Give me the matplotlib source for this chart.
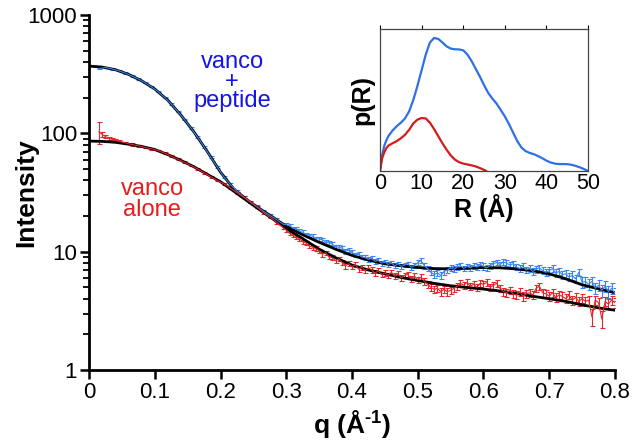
import numpy as np
import matplotlib
matplotlib.use("Agg")
import matplotlib.pyplot as plt
from matplotlib.ticker import FixedLocator, NullFormatter

plt.rcParams['font.family'] = ['Liberation Sans', 'DejaVu Sans']
plt.rcParams['mathtext.fontset'] = 'custom'
plt.rcParams['mathtext.rm'] = 'Liberation Sans'
plt.rcParams['mathtext.bf'] = 'Liberation Sans:bold'

# ---- scattering data ----
# q grid: 0.01 steps below 0.3, 0.005 steps from 0.3 to 0.8
q_blue = np.concatenate([np.linspace(0.015, 0.295, 29), np.linspace(0.30, 0.80, 101)])
I_blue = [352, 360, 350, 338, 323, 305, 288, 268, 247, 225, 201, 177, 153, 131, 111,
          93, 77, 63, 52, 43, 37, 32.5, 29, 26.3, 24.1, 22, 20.3, 18.7, 17.1,
          16.9, 16.6, 15.8, 15.6, 14.9, 14.6, 14.0, 13.7, 13.5, 12.9,
          12.8, 12.6, 12.0, 11.9, 11.6, 11.0, 10.9, 10.7, 10.1, 10.3,
          9.9, 9.4, 9.5, 9.0, 8.9, 8.6, 8.8, 8.3, 8.4, 8.0,
          8.2, 7.8, 8.0, 7.6, 7.9, 7.5, 7.7, 7.9, 7.4, 7.6,
          8.1, 8.4, 7.6, 7.2, 6.7, 6.4, 6.6, 6.3, 6.8, 7.0,
          7.3, 7.1, 7.4, 7.6, 7.2, 7.5, 7.3, 7.6, 7.4, 7.8,
          7.5, 7.3, 7.6, 7.9, 8.1, 7.8, 8.2, 8.0, 7.7, 7.9,
          7.4, 7.2, 7.5, 7.0, 7.2, 6.8, 7.1, 7.3, 6.9, 6.7,
          6.9, 7.2, 6.6, 6.8, 6.4, 6.5, 6.1, 6.3, 5.9, 6.7,
          5.5, 5.6, 5.3, 5.6, 4.9, 5.2, 4.7, 5.1, 4.6, 4.9, 4.4]
err_blue = ([5, 4, 4, 4, 4, 4, 3, 3, 3, 3, 3, 2.5, 2.5, 2, 2, 1.8, 1.5, 1.3, 1.1,
             0.9, 0.8, 0.7, 0.6, 0.6, 0.5, 0.5, 0.5, 0.5, 0.5]
            + [0.5] * 10 + [0.45] * 10 + [0.4] * 10 + [0.35] * 10 + [0.4] * 10
            + [0.4] * 10 + [0.45] * 10 + [0.45] * 10 + [0.5] * 10 + [0.55] * 11)

q_red = np.concatenate([[0.015, 0.02, 0.025, 0.03, 0.035, 0.04, 0.045],
                        np.linspace(0.055, 0.295, 25), np.linspace(0.30, 0.80, 101)])
I_red = [103, 98, 94, 91, 89, 87.5, 86, 83, 80.5, 78.5, 76, 74, 71.5, 68, 64, 60.5,
         57, 53.5, 50, 46.5, 43, 40, 37.5, 34.5, 31.5, 29, 26.5, 24, 21.5, 19.6, 17.8, 16.0,
         15.2, 14.3, 13.9, 13.2, 12.9, 12.1, 11.9, 11.2, 10.9, 10.6,
         10.2, 9.5, 9.8, 9.0, 8.9, 8.4, 8.7, 8.1, 7.6, 7.9,
         7.5, 7.8, 7.1, 7.4, 6.9, 7.3, 7.0, 6.6, 6.9, 6.4,
         6.6, 6.3, 6.7, 6.2, 6.5, 6.0, 6.3, 6.4, 5.9, 6.2,
         5.8, 6.1, 5.6, 5.3, 5.0, 4.8, 4.9, 4.6, 4.8, 4.6,
         4.7, 4.9, 5.1, 5.4, 5.2, 5.5, 5.1, 5.3, 5.0, 5.4,
         5.3, 5.5, 5.0, 5.2, 5.4, 4.9, 4.6, 4.5, 4.7, 4.4,
         4.3, 4.6, 4.2, 4.4, 4.5, 4.3, 4.9, 5.1, 4.5, 4.4,
         4.2, 4.5, 4.1, 4.3, 4.2, 4.0, 4.3, 3.9, 4.1, 3.8,
         4.0, 3.8, 3.9, 2.8, 3.9, 3.7, 2.7, 3.8, 3.6, 3.9, 3.7]
err_red = ([22, 5, 3, 2.5, 2, 2, 2, 1.8, 1.6, 1.5, 1.4, 1.3, 1.2, 1.2, 1.1, 1.0, 1.0,
            0.9, 0.9, 0.8, 0.8, 0.7, 0.7, 0.6, 0.6, 0.6, 0.5, 0.5, 0.5, 0.5, 0.5, 0.5]
           + [0.5] * 10 + [0.4] * 10 + [0.35] * 70
           + [0.35, 0.35, 0.35, 0.45, 0.35, 0.35, 0.45, 0.35, 0.35, 0.35, 0.35])

# fitted curves
q_fit = [0, 0.02, 0.04, 0.06, 0.08, 0.10, 0.12, 0.14, 0.16, 0.18, 0.20, 0.22, 0.24,
         0.26, 0.28, 0.30, 0.325, 0.35, 0.375, 0.40, 0.425, 0.45, 0.475, 0.50, 0.525,
         0.55, 0.575, 0.60, 0.625, 0.65, 0.675, 0.70, 0.725, 0.75, 0.775, 0.80]
fit_blue = [370, 363, 345, 315, 278, 237, 190, 142, 102, 70, 47, 34, 27.5, 23, 19.5, 16.4,
            13.9, 12.0, 10.5, 9.3, 8.5, 7.9, 7.6, 7.35, 7.2, 7.15, 7.25, 7.35, 7.3, 7.15,
            6.9, 6.5, 5.9, 5.25, 4.85, 4.5]
fit_red = [86, 85.5, 84, 81, 77.5, 73, 66, 59, 52, 45, 39, 32.5, 27, 22.5, 18.8, 15.7,
           12.9, 10.5, 8.9, 7.7, 7.0, 6.5, 6.05, 5.7, 5.4, 5.15, 4.98, 4.83, 4.65, 4.42,
           4.2, 4.0, 3.8, 3.55, 3.35, 3.2]

# pair distance distributions (inset), relative units
R_blue = [0, 0.5, 1, 1.5, 2, 3, 4, 5, 6, 7, 8, 9, 10, 11, 12, 13, 14, 15, 16, 17, 18,
          19, 20, 21, 22, 23, 24, 25, 26, 27, 28, 29, 30, 31, 32, 33, 34, 35, 36, 37,
          38, 39, 40, 41, 42, 43, 44, 45, 46, 47, 48, 49, 50]
p_blue = [0, 0.11, 0.175, 0.215, 0.245, 0.285, 0.315, 0.34, 0.37, 0.42, 0.50, 0.60,
          0.71, 0.82, 0.905, 0.937, 0.93, 0.905, 0.878, 0.862, 0.857, 0.856, 0.850,
          0.82, 0.775, 0.72, 0.665, 0.605, 0.55, 0.51, 0.475, 0.43, 0.385, 0.33, 0.27,
          0.21, 0.165, 0.14, 0.127, 0.118, 0.105, 0.09, 0.073, 0.06, 0.052, 0.049,
          0.049, 0.048, 0.044, 0.036, 0.026, 0.014, 0]
R_red = [0, 0.5, 1, 1.5, 2, 3, 4, 5, 6, 7, 8, 9, 10, 11, 12, 13, 14, 15, 16, 17, 18,
         19, 20, 21, 22, 23, 24, 25, 25.5]
p_red = [0, 0.09, 0.13, 0.16, 0.178, 0.195, 0.21, 0.23, 0.255, 0.29, 0.335, 0.362,
         0.373, 0.37, 0.34, 0.295, 0.245, 0.195, 0.150, 0.11, 0.08, 0.062, 0.052,
         0.046, 0.040, 0.032, 0.021, 0.008, 0]

blue_c = '#3a86f0'
red_c = '#e5262b'

fig = plt.figure(figsize=(6.34, 4.48), dpi=100)
ax = fig.add_axes([0.1404, 0.1741, 0.8296, 0.7924])

ax.errorbar(q_blue, I_blue, yerr=err_blue, fmt='-', color=blue_c, lw=0.8,
            elinewidth=0.8, capsize=1.8, capthick=0.8)
ax.errorbar(q_red, I_red, yerr=err_red, fmt='-', color=red_c, lw=0.8,
            elinewidth=0.8, capsize=1.8, capthick=0.8)
ax.plot(q_fit, fit_blue, color='black', lw=2.0)
ax.plot(q_fit, fit_red, color='black', lw=2.0)

ax.set_yscale('log')
ax.set_ylim(1, 1000)
ax.set_xlim(0, 0.8)
ax.set_yticks([1, 10, 100, 1000])
ax.set_yticklabels(['1', '10', '100', '1000'])
ax.yaxis.set_minor_locator(FixedLocator([m * 10 ** e for e in range(0, 3) for m in range(2, 10)]))
ax.yaxis.set_minor_formatter(NullFormatter())
xt = [0, 0.1, 0.2, 0.3, 0.4, 0.5, 0.6, 0.7, 0.8]
ax.set_xticks(xt)
ax.set_xticklabels(['0', '0.1', '0.2', '0.3', '0.4', '0.5', '0.6', '0.7', '0.8'])

for s in ['top', 'right']:
    ax.spines[s].set_visible(False)
for s in ['left', 'bottom']:
    ax.spines[s].set_linewidth(2)
ax.tick_params(which='major', direction='out', length=6.5, width=1.8, labelsize=16, pad=2)
ax.tick_params(which='minor', direction='out', length=4, width=1.3)

ax.set_ylabel('Intensity', fontsize=19, fontweight='bold')
ax.yaxis.set_label_coords(-0.097, 0.5)
ax.set_xlabel('q (Å$^{\\mathbf{\u2010}\\mathbf{1}}$)', fontsize=19, fontweight='bold', labelpad=4)

ax.text(0.272, 0.812, 'vanco\n+\npeptide', color='#1414e6', fontsize=17,
        ha='center', va='center', linespacing=0.85, transform=ax.transAxes)
ax.text(0.12, 0.48, 'vanco\nalone', color='#e81c1c', fontsize=17,
        ha='center', va='center', linespacing=0.95, transform=ax.transAxes)

# inset
axi = fig.add_axes([0.5994, 0.6183, 0.3281, 0.3170])
axi.plot(R_blue, p_blue, color='#2f6fe8', lw=1.6, solid_joinstyle='round')
axi.plot(R_red, p_red, color='#d41a1a', lw=1.6, solid_joinstyle='round')
axi.set_xlim(0, 50)
axi.set_ylim(0, 1)
axi.set_xticks([0, 10, 20, 30, 40, 50])
axi.set_yticks([])
axi.tick_params(axis='x', bottom=False, top=True, labelbottom=True, direction='out',
                length=3, width=0.8, labelsize=15.5, pad=-1.5)
for s in axi.spines.values():
    s.set_linewidth(0.9)
    s.set_color('#444444')
axi.set_xlabel('R (Å)', fontsize=18, fontweight='bold', labelpad=0)
axi.set_ylabel('p(R)', fontsize=18, fontweight='bold', labelpad=4)

fig.savefig('out.png', dpi=100)
